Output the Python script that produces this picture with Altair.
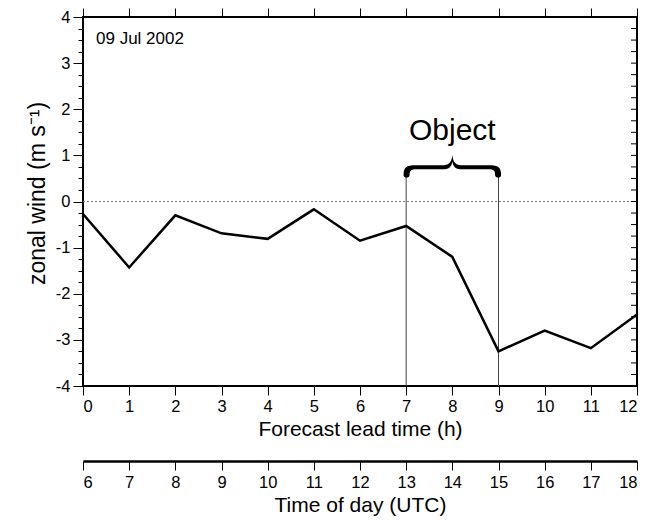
import altair as alt
import pandas as pd

# Forecast lead time (h) and zonal wind (m/s)
lead_hours = [0, 1, 2, 3, 4, 5, 6, 7, 8, 9, 10, 11, 12]
zonal_wind = [-0.27, -1.43, -0.30, -0.69, -0.81, -0.17, -0.85, -0.53, -1.20, -3.25, -2.80, -3.18, -2.45]

# Time of day (UTC) matching each lead hour
utc_hours = [6, 7, 8, 9, 10, 11, 12, 13, 14, 15, 16, 17, 18]

# Object interval
object_bounds = [7, 9]
object_top = 0.58
object_label = "Object"
date_label = "09 Jul 2002"

major_y = [-4, -3, -2, -1, 0, 1, 2, 3, 4]
minor_y = [v / 4 for v in range(-16, 17)]

W, H = 554, 369
FONT = "Liberation Sans"

xs = alt.Scale(domain=[0, 12], nice=False, zero=False)
ys = alt.Scale(domain=[-4, 4], nice=False, zero=False)

df = pd.DataFrame({"lead": lead_hours, "wind": zonal_wind})
df_utc = pd.DataFrame({"utc": utc_hours})
df_obj = pd.DataFrame({"lead": object_bounds, "top": [object_top] * 2, "bottom": [-4, -4]})
df_minor = pd.DataFrame({"y": minor_y})
df_one = pd.DataFrame({"k": [0]})

lbl = "'' + datum.value"

# zero reference line
zero = alt.Chart(df_one).mark_rule(color="#777777", strokeWidth=1, strokeDash=[2, 2]).encode(
    x=alt.datum(0, scale=xs, axis=None),
    x2=alt.datum(12),
    y=alt.datum(0, scale=ys, axis=None),
)

# main series with bottom and left axes
line = alt.Chart(df).mark_line(color="black", strokeWidth=2.5).encode(
    x=alt.X("lead:Q", scale=xs, axis=alt.Axis(
        orient="bottom", values=lead_hours, labelExpr=lbl, title="Forecast lead time (h)",
        tickSize=9, labelPadding=3, titlePadding=4, domain=False,
        labelFontSize=16.5, titleFontSize=21, titleFontWeight="normal")),
    y=alt.Y("wind:Q", scale=ys, axis=alt.Axis(
        orient="left", values=major_y, labelExpr=lbl, title="zonal wind (m s⁻¹)",
        tickSize=10, labelPadding=3, titlePadding=6, titleY=176, domain=False,
        labelFontSize=16.5, titleFontSize=23, titleFontWeight="normal")),
)

# top ticks
top_axis = alt.Chart(df).mark_point(opacity=0).encode(
    x=alt.X("lead:Q", scale=xs, axis=alt.Axis(
        orient="top", values=lead_hours, labels=False, title=None, tickSize=9, domain=False)),
    y=alt.Y("wind:Q", scale=ys, axis=None),
)

# minor ticks on the left
left_minor = alt.Chart(df_minor).mark_point(opacity=0).encode(
    x=alt.datum(0, scale=xs, axis=None),
    y=alt.Y("y:Q", scale=ys, axis=alt.Axis(
        orient="left", values=minor_y, labels=False, title=None, tickSize=5, domain=False)),
)

# inward ticks on the right edge
right_ticks = alt.Chart(df_minor).mark_rule(color="black", strokeWidth=1).encode(
    x=alt.value(W),
    x2=alt.value(W - 6),
    y=alt.Y("y:Q", scale=ys, axis=None),
)

# second time axis (time of day)
utc_axis = alt.Chart(df_utc).mark_point(opacity=0).encode(
    x=alt.X("utc:Q", scale=alt.Scale(domain=[6, 18], nice=False, zero=False), axis=alt.Axis(
        orient="bottom", offset=75, values=utc_hours, labelExpr=lbl, title="Time of day (UTC)",
        tickSize=9, labelPadding=4, titlePadding=4, domain=True, domainWidth=2.5,
        domainColor="black", labelFontSize=16.5, titleFontSize=21, titleFontWeight="normal")),
    y=alt.datum(-4, scale=ys, axis=None),
)

# object boundaries
bounds = alt.Chart(df_obj).mark_rule(color="#444444", strokeWidth=1).encode(
    x=alt.X("lead:Q", scale=xs, axis=None),
    y=alt.Y("bottom:Q", scale=ys, axis=None),
    y2="top:Q",
)

# filled curly brace spanning the object interval (symbol units: +-1 = half width)
brace_path = (
    "M -1.06 0.17 "
    "C -1.06 0.0 -1.0 -0.045 -0.8 -0.045 "
    "L -0.24 -0.045 "
    "C -0.07 -0.045 -0.02 -0.1 0 -0.27 "
    "C 0.02 -0.1 0.07 -0.045 0.24 -0.045 "
    "L 0.8 -0.045 "
    "C 1.0 -0.045 1.06 0.0 1.06 0.17 "
    "C 1.06 0.24 0.93 0.24 0.93 0.17 "
    "C 0.93 0.07 0.9 0.04 0.78 0.04 "
    "L 0.22 0.04 "
    "C 0.08 0.04 0.02 0.0 0 -0.13 "
    "C -0.02 0.0 -0.08 0.04 -0.22 0.04 "
    "L -0.78 0.04 "
    "C -0.9 0.04 -0.93 0.07 -0.93 0.17 "
    "C -0.93 0.24 -1.06 0.24 -1.06 0.17 Z"
)
brace = alt.Chart(df_one).mark_point(
    shape=brace_path, size=8464, filled=True, fill="black", strokeWidth=0, opacity=1,
).encode(
    x=alt.datum(8, scale=xs, axis=None),
    y=alt.datum(0.74, scale=ys, axis=None),
)

obj_text = alt.Chart(df_one).mark_text(fontSize=30, font=FONT, color="black", baseline="middle").encode(
    x=alt.datum(8, scale=xs, axis=None),
    y=alt.datum(1.52, scale=ys, axis=None),
    text=alt.value(object_label),
)

date_text = alt.Chart(df_one).mark_text(fontSize=17, font=FONT, color="black", align="left", baseline="middle").encode(
    x=alt.value(13),
    y=alt.value(22),
    text=alt.value(date_label),
)

chart = alt.layer(
    zero, bounds, line, top_axis, left_minor, right_ticks, utc_axis, brace, obj_text, date_text
).resolve_scale(x="independent", y="independent").properties(
    width=W, height=H,
    autosize=alt.AutoSizeParams(type="none"),
    padding={"left": 83, "top": 17, "right": 15, "bottom": 136},
).configure_view(
    stroke="black", strokeWidth=2,
).configure_axis(
    labelFont=FONT, titleFont=FONT, labelColor="black", titleColor="black",
    tickColor="black", tickWidth=1, grid=False,
)

chart.save("out.html", embed_options={"renderer": "svg", "actions": False})
